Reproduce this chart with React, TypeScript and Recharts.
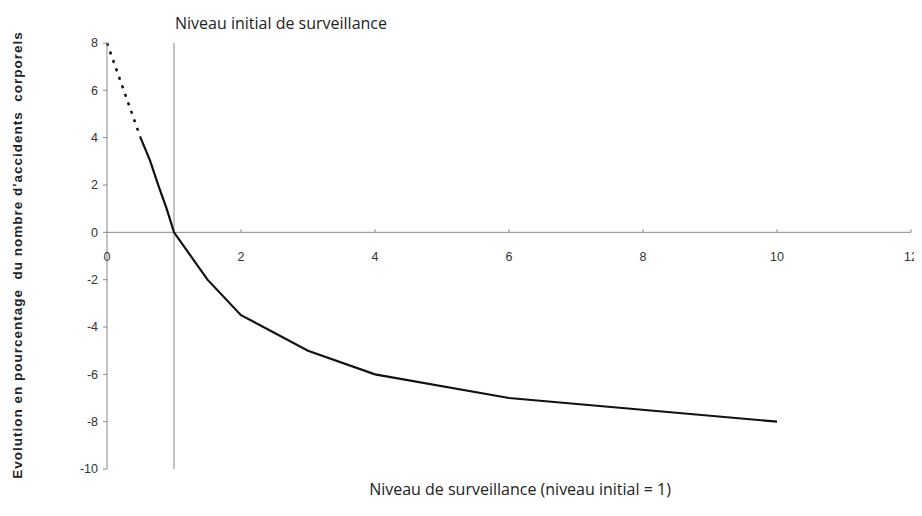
import React from 'react';
import { LineChart, Line, XAxis, YAxis, ReferenceLine, ReferenceDot } from 'recharts';

const dashedX = [0, 0.5];
const dashedY = [8, 4];
const solidX = [0.5, 0.64, 0.77, 0.89, 1, 1.5, 2, 3, 4, 6, 10];
const solidY = [4, 3.05, 1.95, 1, 0, -2, -3.5, -5, -6, -7, -8];
const xTicks = [0, 2, 4, 6, 8, 10, 12];
const yTicks = [-10, -8, -6, -4, -2, 0, 2, 4, 6, 8];
const initialLevel = 1;
const topTitle = 'Niveau initial de surveillance';
const xTitle = 'Niveau de surveillance (niveau initial = 1)';
const yTitle = "Evolution en pourcentage  du nombre d'accidents  corporels";

const dashedData = dashedX.map((x, i) => ({ x, y: dashedY[i] }));
const solidData = solidX.map((x, i) => ({ x, y: solidY[i] }));

const FONT = "'Liberation Sans', Arial, sans-serif";

const XTickShape = (props: any) => {
  const { cx, cy, value } = props;
  return (
    <g>
      {value !== 0 && <line x1={cx} x2={cx} y1={cy - 3} y2={cy} stroke="#888" strokeWidth={1} />}
      <text x={cx} y={cy + 29} textAnchor="middle" fontFamily={FONT} fontSize={12.5} fill="#333">
        {value}
      </text>
    </g>
  );
};

export default function App() {
  return (
    <div style={{ position: 'relative', width: 914, height: 508, background: '#fff' }}>
      <LineChart width={914} height={508} margin={{ top: 35, right: 11, bottom: 47, left: 59 }}>
        <XAxis dataKey="x" type="number" domain={[0, 12]} ticks={xTicks} hide />
        <YAxis
          type="number"
          domain={[-10, 8]}
          ticks={yTicks}
          width={40}
          axisLine={{ stroke: '#888' }}
          tickLine={{ stroke: '#888' }}
          tickSize={4}
          tickMargin={5}
          tick={{ fontFamily: FONT, fontSize: 12.5, fill: '#333' }}
        />
        <ReferenceLine y={0} stroke="#888" strokeWidth={1} />
        <ReferenceLine
          x={initialLevel}
          stroke="#888"
          strokeWidth={1}
          label={(p: any) => (
            <text
              x={p.viewBox.x + 1}
              y={p.viewBox.y - 14}
              textAnchor="start"
              fontFamily="'Open Sans'"
              fontSize={16}
              fill="#222"
            >
              {topTitle}
            </text>
          )}
        />
        {xTicks.map((t) => (
          <ReferenceDot key={t} x={t} y={0} r={0} shape={(p: any) => <XTickShape {...p} value={t} />} />
        ))}
        <Line
          data={dashedData}
          dataKey="y"
          type="linear"
          stroke="#111"
          strokeWidth={2.5}
          strokeDasharray="3 6"
          dot={false}
          isAnimationActive={false}
        />
        <Line
          data={solidData}
          dataKey="y"
          type="linear"
          stroke="#111"
          strokeWidth={2.2}
          dot={false}
          isAnimationActive={false}
        />
      </LineChart>
      <div
        style={{
          position: 'absolute',
          left: 10 - 240,
          top: 247 - 9,
          width: 480,
          height: 18,
          lineHeight: '18px',
          textAlign: 'center',
          transform: 'rotate(-90deg)',
          fontFamily: FONT,
          fontWeight: 'bold',
          fontSize: 13.5,
          letterSpacing: 1,
          color: '#222',
          whiteSpace: 'pre',
        }}
      >
        {yTitle}
      </div>
      <div
        style={{
          position: 'absolute',
          left: 312,
          top: 470,
          width: 400,
          textAlign: 'center',
          fontFamily: "'Open Sans'",
          fontSize: 16,
          color: '#222',
          whiteSpace: 'nowrap',
        }}
      >
        {xTitle}
      </div>
    </div>
  );
}
